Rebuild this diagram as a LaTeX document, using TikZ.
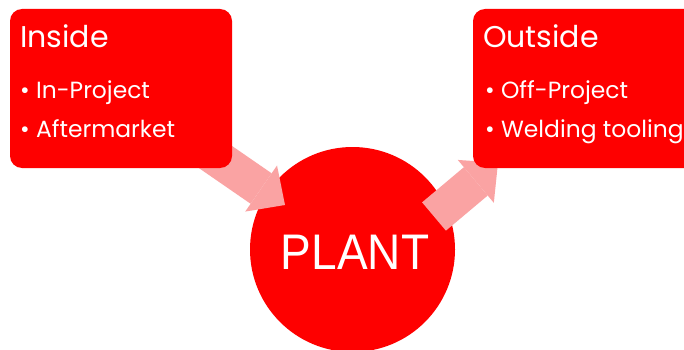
\documentclass[tikz,border=0pt]{standalone}
\usepackage{fontspec}
\setmainfont{Poppins}
\newfontfamily\plantfont{Liberation Sans}
\usetikzlibrary{arrows.meta}
\definecolor{boxred}{RGB}{254,0,0}
\definecolor{arrowpink}{RGB}{250,163,163}
\tikzset{
  panel/.style={fill=boxred, draw=none, rounded corners=12pt},
  hub/.style={circle, fill=boxred, draw=none, minimum size=205pt, inner sep=0pt},
  heading/.style={anchor=base west, text=white, inner sep=0pt, font=\fontsize{30}{36}\selectfont},
  item/.style={anchor=base west, text=white, inner sep=0pt, font=\fontsize{23.4}{28}\selectfont},
  fatarrow/.style={draw=arrowpink, line width=37pt,
    -{Triangle[width=56pt, length=29pt, line width=0pt]}},
}
\begin{document}
\begin{tikzpicture}[x=1pt, y=-1pt]
  \useasboundingbox (0,0) rectangle (684,350);
  \clip (0,0) rectangle (684,350);
  \fill[white] (0,0) rectangle (684,350);

  % central plant
  \node[hub] (plant) at (352.5,249.5) {};
  \node[anchor=base, text=white, inner sep=0pt, font=\plantfont\fontsize{50}{60}\selectfont]
    (plantlabel) at (355,269) {\scalebox{0.92}[1]{PLANT}};

  % arrow ends
  \coordinate (inTail) at (185,136);
  \coordinate (inTip) at (285,205);
  \coordinate (outTail) at (434,216.5);
  \coordinate (outTip) at (498,162.7);
  \draw[fatarrow] (inTail) -- (inTip);
  \draw[fatarrow] (outTail) -- (outTip);

  % source panels
  \path[panel] (10,9) rectangle (232,168);
  \coordinate (insideCorner) at (10,9);
  \path[panel] (473,9) rectangle (710,168);
  \coordinate (outsideCorner) at (473,9);

  \node[heading] (insideHead) at (20,48) {Inside};
  \node[item] (inA) at (20,99) {• In-Project};
  \node[item] (inB) at (20,137) {• Aftermarket};

  \node[heading] (outsideHead) at (483,48) {Outside};
  \node[item] (outA) at (485,99) {• Off-Project};
  \node[item] (outB) at (485,137) {• Welding tooling};
\end{tikzpicture}
\end{document}
